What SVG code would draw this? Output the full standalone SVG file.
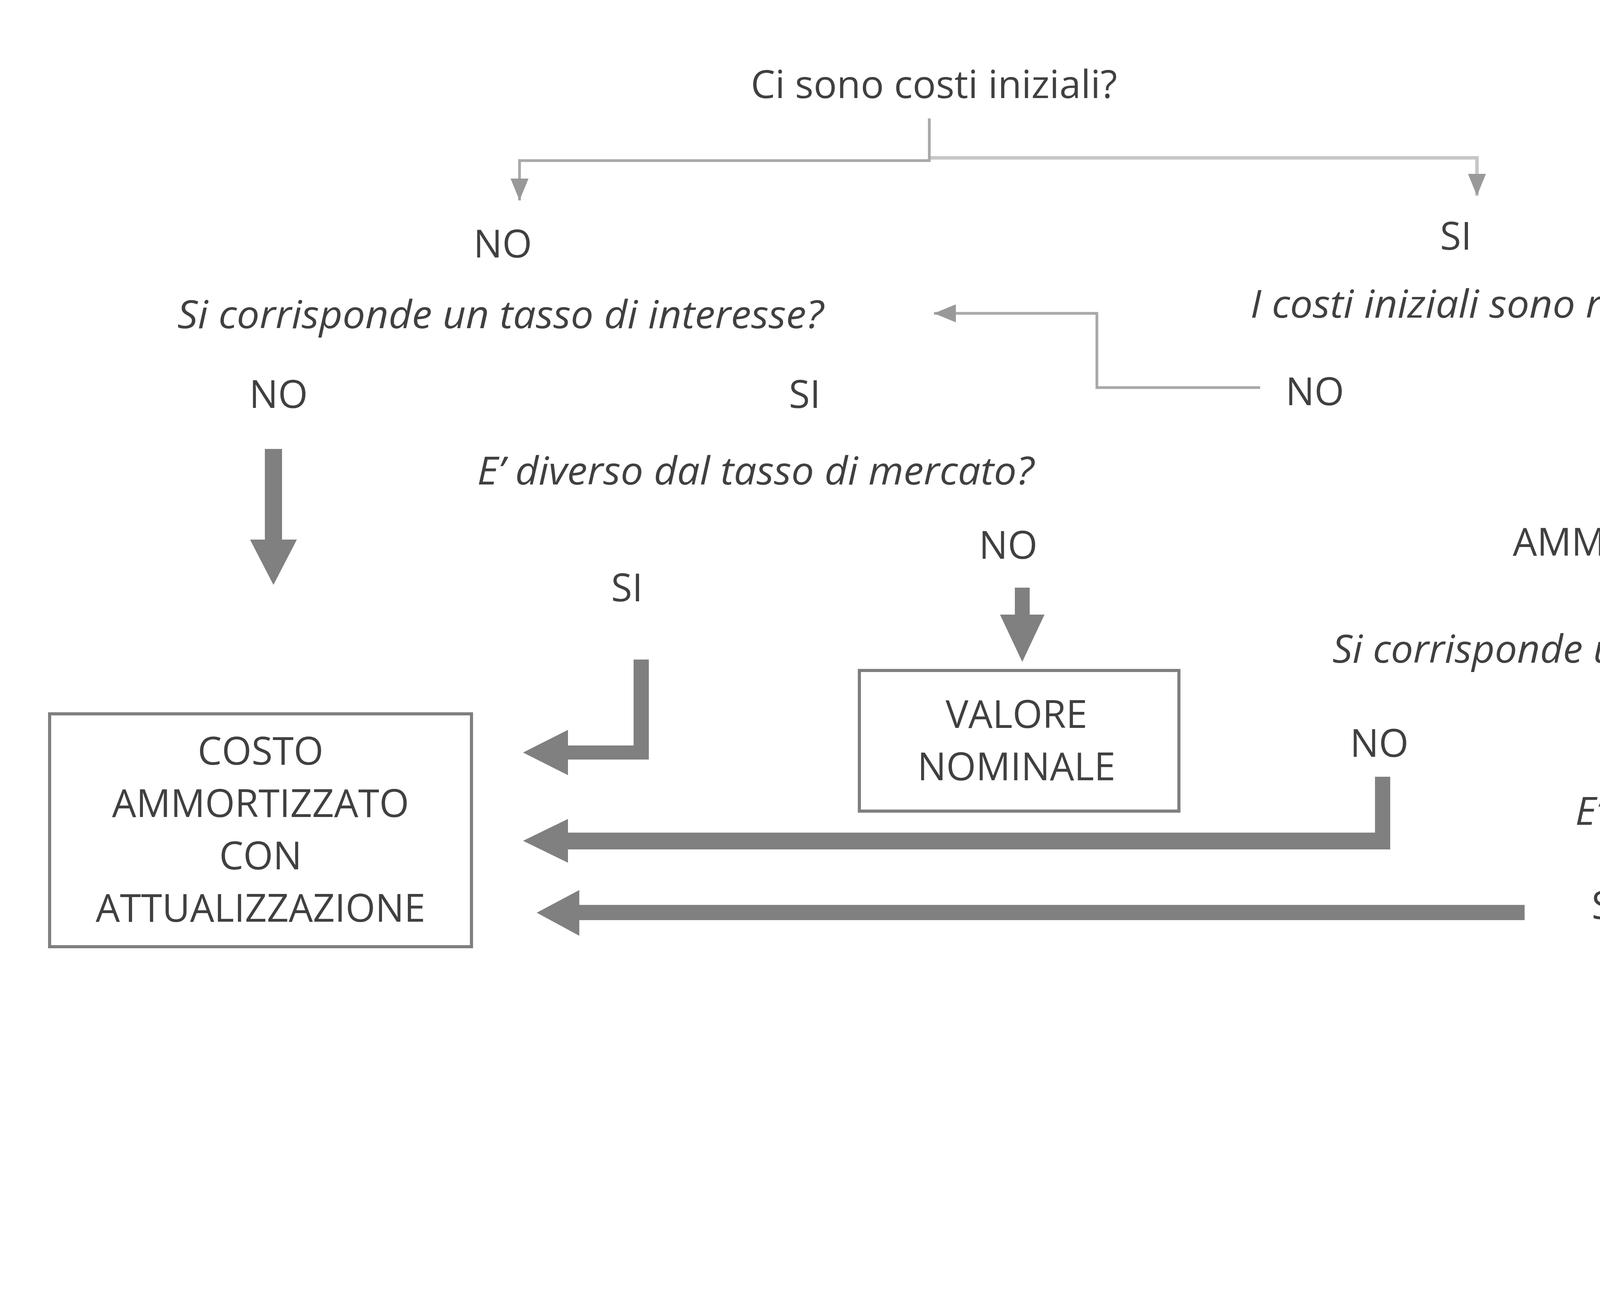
<svg xmlns="http://www.w3.org/2000/svg" width="6000" height="3317" viewBox="0 0 6000 3317">
<style>
text{font-family:"Open Sans","Liberation Sans",sans-serif;font-size:98px;fill:#404040;text-anchor:middle}
.q{font-style:italic}
.thin{fill:none;stroke:#a8a8a8;stroke-width:7}
.thinl{fill:none;stroke:#c6c6c6;stroke-width:9}
.thick{fill:#808080}
.box{fill:#ffffff;stroke:#7f7f7f;stroke-width:8}
</style>
<defs>
<marker id="ah" viewBox="0 0 56 46" refX="56" refY="23" markerWidth="56" markerHeight="46" markerUnits="userSpaceOnUse" orient="auto">
<path d="M0,0 L56,23 L0,46 Z" fill="#999999"/>
</marker>
</defs>
<rect width="6000" height="3317" fill="#ffffff"/>

<g id="connectors">
<path class="thinl" d="M2379,404 H3781 V501" marker-end="url(#ah)"/>
<path class="thin" d="M2379,303 V411 H1330 V513" marker-end="url(#ah)"/>
<path class="thin" d="M3226,992 H2808 V802 H2391" marker-end="url(#ah)"/>
<path class="thin" stroke-width="5" d="M4257,1489 V1645" marker-end="url(#ah)"/>
<path class="thick" d="M678,1149 H722 V1381 H760 L700,1497 L640,1381 H678 Z"/>
<path class="thick" d="M2598,1504 H2636 V1573 H2674 L2617,1694 L2560,1573 H2598 Z"/>
<path class="thick" d="M1622,1688 H1661 V1944 H1454 V1984 L1339,1926 L1454,1868 V1908 H1622 Z"/>
<path class="thick" d="M3520,1988 H3559 V2174 H1454 V2208 L1339,2152 L1454,2096 V2131 H3520 Z"/>
<path class="thick" d="M3903,2316 V2355 H1483 V2395 L1374,2336 L1483,2278 V2316 Z"/>
<path class="thick" d="M5353,2394 H5391 V2465 H5431 L5372,2578 L5313,2465 H5353 Z"/>
</g>

<g id="q-costi-iniziali"><text x="2391" y="251" textLength="938" lengthAdjust="spacingAndGlyphs">Ci sono costi iniziali?</text></g>
<g id="l-no-1"><text x="1287" y="659">NO</text></g>
<g id="l-si-1"><text x="3727" y="639">SI</text></g>
<g id="q-tasso-1"><text class="q" x="1281" y="840" textLength="1654" lengthAdjust="spacingAndGlyphs">Si corrisponde un tasso di interesse?</text></g>
<g id="q-rilevanti"><text class="q" x="3837" y="813" textLength="1272" lengthAdjust="spacingAndGlyphs">I costi iniziali sono rilevanti?</text></g>
<g id="l-no-2"><text x="3366" y="1037">NO</text></g>
<g id="l-si-2"><text x="4203" y="1030">SI</text></g>
<g id="l-no-3"><text x="713" y="1044">NO</text></g>
<g id="l-si-3"><text x="2060" y="1044">SI</text></g>
<g id="q-mercato-1"><text class="q" x="1934" y="1240" textLength="1425" lengthAdjust="spacingAndGlyphs">E’ diverso dal tasso di mercato?</text></g>
<g id="l-no-4"><text x="2581" y="1430">NO</text></g>
<g id="l-si-4"><text x="1605" y="1539">SI</text></g>
<g id="n-costo-amm">
<text x="4256" y="1284">COSTO</text>
<text x="4253" y="1422">AMMORTIZZATO</text>
</g>
<g id="q-tasso-2"><text class="q" x="4224" y="1696" textLength="1626" lengthAdjust="spacingAndGlyphs">Si corrisponde un tasso di interesse?</text></g>
<g id="l-no-5"><text x="3531" y="1937">NO</text></g>
<g id="l-si-5"><text x="4778" y="1927">SI</text></g>
<g id="q-mercato-2"><text class="q" x="4745" y="2111" textLength="1425" lengthAdjust="spacingAndGlyphs">E’ diverso dal tasso di mercato?</text></g>
<g id="l-si-6"><text x="4115" y="2352">SI</text></g>
<g id="l-no-6"><text x="5379" y="2333">NO</text></g>

<g id="n-valore-nominale">
<rect class="box" x="2200" y="1716" width="818" height="360"/>
<text x="2602" y="1863">VALORE</text>
<text x="2602" y="1997">NOMINALE</text>
</g>
<g id="n-costo-con">
<rect class="box" x="127" y="1827" width="1080" height="596"/>
<text x="667" y="1957">COSTO</text>
<text x="667" y="2091">AMMORTIZZATO</text>
<text x="667" y="2225">CON</text>
<text x="667" y="2359">ATTUALIZZAZIONE</text>
</g>
<g id="n-costo-senza">
<rect class="box" x="4852" y="2584" width="1085" height="595"/>
<text x="5393" y="2705">COSTO</text>
<text x="5393" y="2843">AMMORTIZZATO</text>
<text x="5393" y="2981">SENZA</text>
<text x="5393" y="3116">ATTUALIZZAZIONE</text>
</g>
</svg>
